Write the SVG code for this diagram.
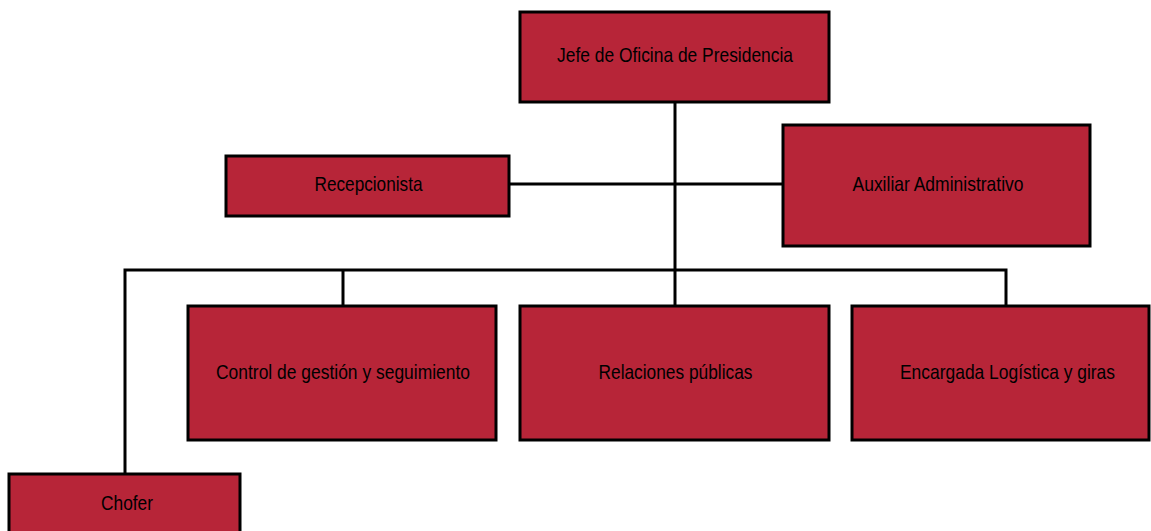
<svg xmlns="http://www.w3.org/2000/svg" width="1151" height="531" viewBox="0 0 1151 531">
<style>
.box{fill:#B72538;stroke:#000;stroke-width:3}
.lbl{font-family:"Liberation Sans",Arial,sans-serif;font-size:21px;fill:#000;text-anchor:middle}
.ln{stroke:#000;stroke-width:3;fill:none}
</style>
<rect width="1151" height="531" fill="#fff"/>
<g id="connectors">
<line class="ln" x1="675" y1="102" x2="675" y2="305"/>
<line class="ln" x1="509" y1="184" x2="783" y2="184"/>
<polyline class="ln" points="125,473 125,270 1006,270 1006,305"/>
<line class="ln" x1="343" y1="270" x2="343" y2="305"/>
</g>
<g id="jefe"><rect class="box" x="520" y="12" width="309" height="90"/><text class="lbl" x="675" y="62" textLength="236" lengthAdjust="spacingAndGlyphs">Jefe de Oficina de Presidencia</text></g>
<g id="recepcionista"><rect class="box" x="226" y="156" width="283" height="60"/><text class="lbl" x="368.5" y="191" textLength="108" lengthAdjust="spacingAndGlyphs">Recepcionista</text></g>
<g id="auxiliar"><rect class="box" x="783" y="125" width="307" height="121"/><text class="lbl" x="938" y="191" textLength="171" lengthAdjust="spacingAndGlyphs">Auxiliar Administrativo</text></g>
<g id="control"><rect class="box" x="188" y="306" width="308" height="134"/><text class="lbl" x="343" y="379" textLength="254" lengthAdjust="spacingAndGlyphs">Control de gestión y seguimiento</text></g>
<g id="relaciones"><rect class="box" x="520" y="306" width="309" height="134"/><text class="lbl" x="675.5" y="379" textLength="154" lengthAdjust="spacingAndGlyphs">Relaciones públicas</text></g>
<g id="encargada"><rect class="box" x="852" y="306" width="297" height="134"/><text class="lbl" x="1007.5" y="379" textLength="215" lengthAdjust="spacingAndGlyphs">Encargada Logística y giras</text></g>
<g id="chofer"><rect class="box" x="9" y="474" width="231" height="70"/><text class="lbl" x="127" y="510" textLength="52" lengthAdjust="spacingAndGlyphs">Chofer</text></g>
</svg>
